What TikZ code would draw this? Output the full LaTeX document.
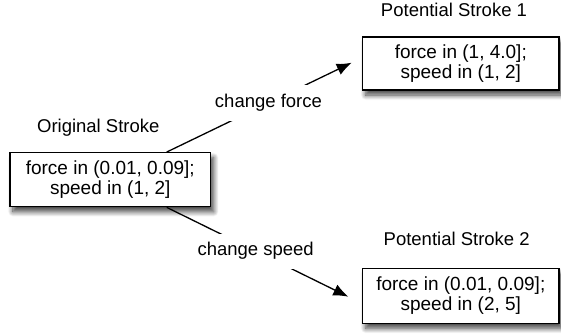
\documentclass[tikz,border=0pt]{standalone}
\usepackage{fontspec}
\setmainfont{Liberation Sans}
\usetikzlibrary{arrows.meta,shadows.blur}
\begin{document}
\begin{tikzpicture}[x=1pt,y=-1pt,
  every node/.style={font=\fontsize{18.5}{20}\selectfont},
  stroke/.style={draw=black,line width=1.3pt,fill=white,align=center,inner sep=0pt,
    font=\fontsize{19}{19.5}\selectfont,
    blur shadow={shadow xshift=3pt,shadow yshift=-5pt,shadow blur radius=5pt,shadow blur steps=12,shadow opacity=75}},
  title/.style={anchor=base},
  conn/.style={line width=1.3pt},
  lbl/.style={fill=white,inner xsep=2pt,inner ysep=9pt}
]
\useasboundingbox (0,0) rectangle (561,333);
\node[stroke,minimum width=200.7pt,minimum height=54pt] (orig) at (110.3,179.7) {force in (0.01, 0.09];\\speed in (1, 2]};
\node[stroke,minimum width=196.3pt,minimum height=53pt] (p1) at (460.8,63.5) {force in (1, 4.0];\\speed in (1, 2]};
\node[stroke,minimum width=196.3pt,minimum height=55pt] (p2) at (460.8,295.8) {force in (0.01, 0.09];\\speed in (2, 5]};
\node[title] (t0) at (98.3,132.7) {Original Stroke};
\node[title] (t1) at (454,16.7) {Potential Stroke 1};
\node[title] (t2) at (456.7,245) {Potential Stroke 2};
\coordinate (e1) at (351.7,62.7);
\coordinate (e2) at (348.3,296.7);
\draw[conn,-{Latex[length=15pt,width=12pt]}] ([xshift=56.4pt]orig.north) -- (e1) node[lbl,pos=0.55] (lf) {change force};
\draw[conn,-{Latex[length=15pt,width=12pt]}] ([xshift=56.4pt]orig.south) -- (e2) node[lbl,pos=0.49] (ls) {change speed};
\end{tikzpicture}
\end{document}
